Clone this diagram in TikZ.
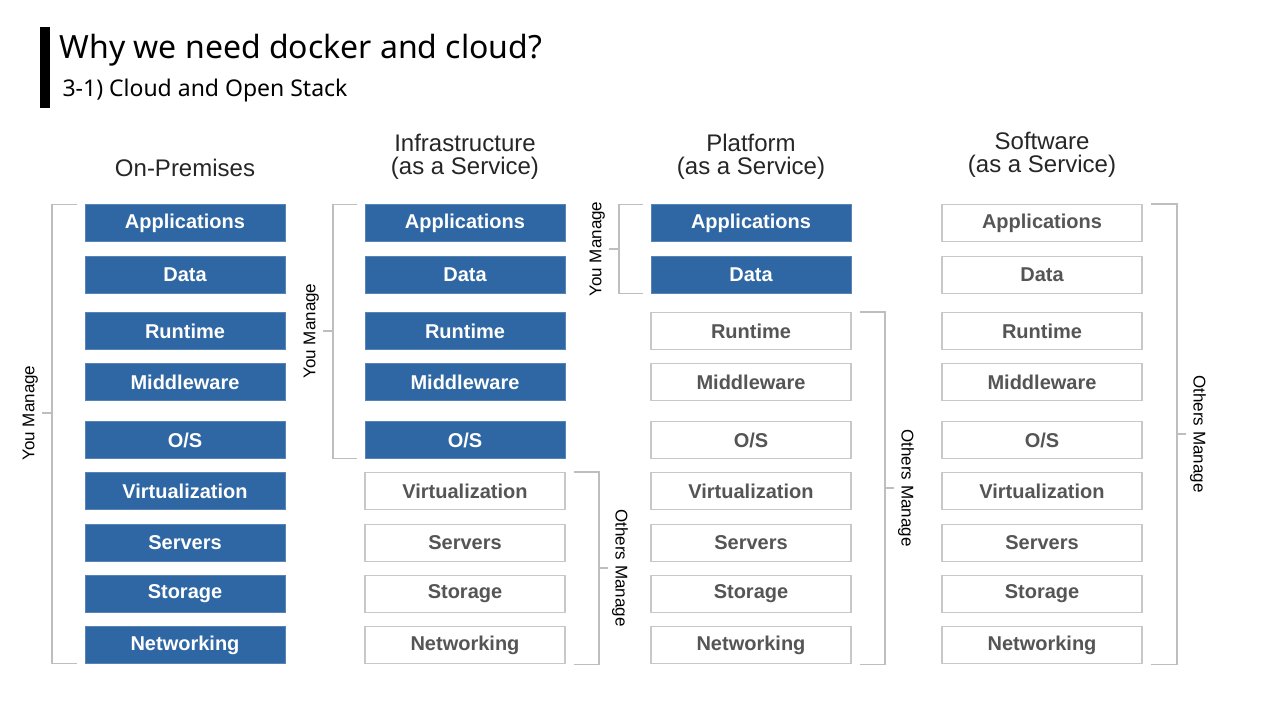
\documentclass[tikz,border=0pt]{standalone}
\usepackage{fontspec}
\setmainfont{Liberation Sans}
\newfontfamily\titlefont{Noto Sans}
\usepackage{tikz}

\definecolor{stackblue}{RGB}{46,103,164}
\definecolor{boxgray}{RGB}{200,200,200}
\definecolor{textgray}{RGB}{85,85,85}
\definecolor{bracketgray}{RGB}{190,190,190}

\begin{document}
\begin{tikzpicture}[x=1pt, y=-1pt,
    layer/.style={minimum width=200pt, minimum height=37pt, inner sep=0pt,
        font=\fontsize{20}{22}\selectfont\bfseries},
    you/.style={layer, fill=stackblue, draw=stackblue!80, text=white},
    others/.style={layer, fill=white, draw=boxgray, line width=1.5pt, text=textgray},
    header/.style={align=center, font=\fontsize{24}{23}\selectfont, text=black!85},
    bracket/.style={draw=bracketgray, line width=1.5pt},
    side/.style={font=\fontsize{17}{19}\selectfont, text=black}]
    \useasboundingbox[fill=white] (0,0) rectangle (1280,720);

    % title
    \fill (40,27) rectangle (50,108);
    \node[anchor=west, font=\titlefont\fontsize{32}{34}\selectfont] (title) at (56,50) {Why we need docker and cloud?};
    \node[anchor=west, font=\titlefont\fontsize{23}{25}\selectfont] (subtitle) at (59,91) {3-1) Cloud and Open Stack};

    % headers
    \node[header] (h1) at (185,168) {On-Premises};
    \node[header] (h2) at (465,157) {Infrastructure\\(as a Service)};
    \node[header] (h3) at (751,157) {Platform\\(as a Service)};
    \node[header] (h4) at (1042,155) {Software\\(as a Service)};

    % on-premises
    \node[you] (a1) at (185,223) {Applications};
    \node[you] (d1) at (185,275) {Data};
    \node[you] (r1) at (185,331) {Runtime};
    \node[you] (m1) at (185,382) {Middleware};
    \node[you] (o1) at (185,440) {O/S};
    \node[you] (v1) at (185,491) {Virtualization};
    \node[you] (s1) at (185,543) {Servers};
    \node[you] (t1) at (185,594) {Storage};
    \node[you] (n1) at (185,645) {Networking};

    % iaas
    \node[you] (a2) at (465,223) {Applications};
    \node[you] (d2) at (465,275) {Data};
    \node[you] (r2) at (465,331) {Runtime};
    \node[you] (m2) at (465,382) {Middleware};
    \node[you] (o2) at (465,440) {O/S};
    \node[others] (v2) at (465,491) {Virtualization};
    \node[others] (s2) at (465,543) {Servers};
    \node[others] (t2) at (465,594) {Storage};
    \node[others] (n2) at (465,645) {Networking};

    % paas
    \node[you] (a3) at (751,223) {Applications};
    \node[you] (d3) at (751,275) {Data};
    \node[others] (r3) at (751,331) {Runtime};
    \node[others] (m3) at (751,382) {Middleware};
    \node[others] (o3) at (751,440) {O/S};
    \node[others] (v3) at (751,491) {Virtualization};
    \node[others] (s3) at (751,543) {Servers};
    \node[others] (t3) at (751,594) {Storage};
    \node[others] (n3) at (751,645) {Networking};

    % saas
    \node[others] (a4) at (1042,223) {Applications};
    \node[others] (d4) at (1042,275) {Data};
    \node[others] (r4) at (1042,331) {Runtime};
    \node[others] (m4) at (1042,382) {Middleware};
    \node[others] (o4) at (1042,440) {O/S};
    \node[others] (v4) at (1042,491) {Virtualization};
    \node[others] (s4) at (1042,543) {Servers};
    \node[others] (t4) at (1042,594) {Storage};
    \node[others] (n4) at (1042,645) {Networking};

    % brackets
    \draw[bracket] ([xshift=-8pt]a1.north west) -- ++(-25,0) |- ([xshift=-8pt]n1.south west);
    \draw[bracket] (52,413) -- ++(-10,0) node[side, rotate=90, anchor=south] (y1) {You Manage};

    \draw[bracket] ([xshift=-8pt]a2.north west) -- ++(-24,0) |- ([xshift=-8pt]o2.south west);
    \draw[bracket] (333,331) -- ++(-10,0) node[side, rotate=90, anchor=south] (y2) {You Manage};

    \draw[bracket] ([xshift=8pt]v2.north east) -- ++(25,0) |- ([xshift=8pt]n2.south east);
    \draw[bracket] (598,568) -- ++(10,0) node[side, rotate=-90, anchor=south] (o2lbl) {Others Manage};

    \draw[bracket] ([xshift=-8pt]a3.north west) -- ++(-24,0) |- ([xshift=-8pt]d3.south west);
    \draw[bracket] (619,249) -- ++(-10,0) node[side, rotate=90, anchor=south] (y3) {You Manage};

    \draw[bracket] ([xshift=8pt]r3.north east) -- ++(25,0) |- ([xshift=8pt]n3.south east);
    \draw[bracket] (884,488) -- ++(10,0) node[side, rotate=-90, anchor=south] (o3lbl) {Others Manage};

    \draw[bracket] ([xshift=8pt]a4.north east) -- ++(26,0) |- ([xshift=8pt]n4.south east);
    \draw[bracket] (1176,434) -- ++(10,0) node[side, rotate=-90, anchor=south] (o4lbl) {Others Manage};
\end{tikzpicture}
\end{document}
